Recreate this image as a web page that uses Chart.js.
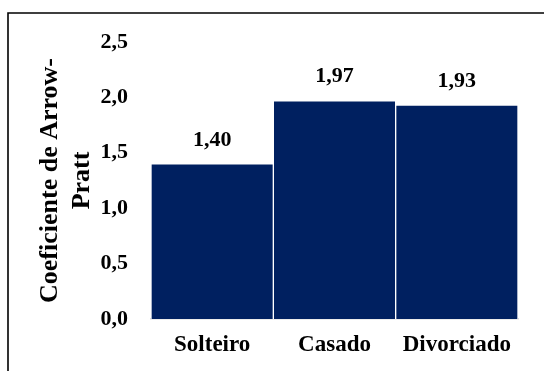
<!DOCTYPE html>
<html>
<head>
<meta charset="utf-8">
<script src="https://cdn.jsdelivr.net/npm/chart.js@4/dist/chart.umd.min.js"></script>
<style>
  html, body { margin: 0; padding: 0; background: #fff; }
  #wrap { width: 544px; height: 371px; position: relative; }
</style>
</head>
<body>
<div id="wrap"><canvas id="c"></canvas></div>
<script>
// Coeficiente de Arrow-Pratt por estado civil
const categories = ['Solteiro', 'Casado', 'Divorciado'];
const coefValues = [1.40, 1.97, 1.93];
const yTickMax = 2.5;
const yTickStep = 0.5;

const serifBold = (size) => ({ family: '"Liberation Serif", "Times New Roman", serif', size: size, weight: 'bold' });
const ptBR = (v, d) => v.toFixed(d).replace('.', ',');

// Frame lines along the top and left edges
const framePlugin = {
  id: 'frame',
  beforeDraw(chart) {
    const ctx = chart.ctx;
    ctx.save();
    ctx.strokeStyle = '#000';
    ctx.lineWidth = 1.6;
    ctx.beginPath();
    ctx.moveTo(8, chart.height);
    ctx.lineTo(8, 13);
    ctx.lineTo(chart.width, 13);
    ctx.stroke();
    ctx.restore();
  }
};

// Value labels above each bar
const valueLabels = {
  id: 'valueLabels',
  afterDatasetsDraw(chart) {
    const ctx = chart.ctx;
    const meta = chart.getDatasetMeta(0);
    const data = chart.data.datasets[0].data;
    ctx.save();
    ctx.fillStyle = '#000';
    ctx.font = 'bold 22px "Liberation Serif", "Times New Roman", serif';
    ctx.textAlign = 'center';
    ctx.textBaseline = 'middle';
    meta.data.forEach((bar, i) => {
      ctx.fillText(ptBR(data[i], 2), bar.x, bar.y - 24);
    });
    ctx.restore();
  }
};

new Chart(document.getElementById('c'), {
  type: 'bar',
  data: {
    labels: categories,
    datasets: [{
      data: coefValues,
      backgroundColor: '#002060',
      borderColor: '#ffffff',
      borderWidth: 1,
      barPercentage: 1,
      categoryPercentage: 1
    }]
  },
  options: {
    responsive: true,
    maintainAspectRatio: false,
    animation: false,
    layout: { padding: { left: 0, right: 26, top: 42, bottom: 0 } },
    plugins: { legend: { display: false }, tooltip: { enabled: false } },
    scales: {
      x: {
        grid: { display: false, drawTicks: false },
        border: { display: true, color: '#d9d9d9', width: 1.5 },
        ticks: { color: '#000', font: serifBold(23), padding: 12, maxRotation: 0 },
        afterFit(scale) { scale.height = 52; }
      },
      y: {
        min: 0,
        max: yTickMax,
        grid: { display: false, drawTicks: false },
        border: { display: false },
        ticks: {
          stepSize: yTickStep,
          color: '#000',
          font: serifBold(22),
          padding: 23,
          callback: (v) => ptBR(v, 1)
        },
        title: {
          display: true,
          text: ['Coeficiente de Arrow-', 'Pratt'],
          color: '#000',
          font: { family: '"Liberation Serif", "Times New Roman", serif', size: 26, weight: 'bold', lineHeight: 1.25 },
          padding: { top: 34, bottom: 0 }
        },
        afterFit(scale) { scale.width = 151; }
      }
    }
  },
  plugins: [framePlugin, valueLabels]
});
</script>
</body>
</html>
